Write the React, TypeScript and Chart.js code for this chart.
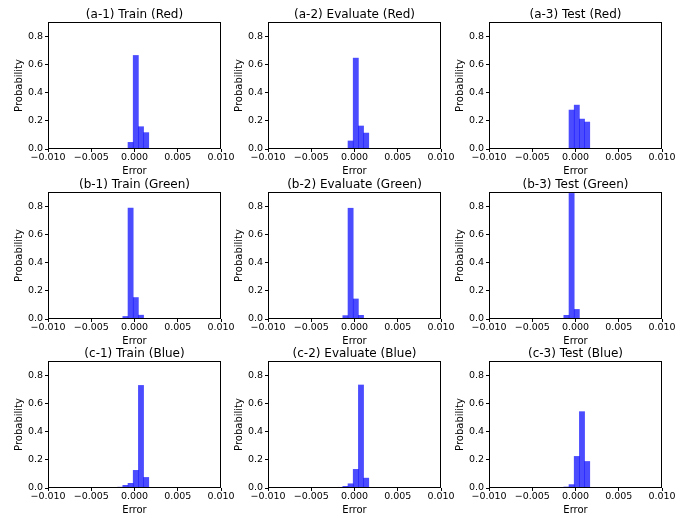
import { useEffect, useRef } from "react";
import { Chart, registerables } from "chart.js";

Chart.register(...registerables);

// Histogram bin centres (bin width 0.0006)
const binCenters = [-0.00225, -0.00165, -0.00105, -0.00045, 0.00015, 0.00075, 0.00135, 0.00195, 0.00255];

const titles = [
  "(a-1) Train (Red)",
  "(a-2) Evaluate (Red)",
  "(a-3) Test (Red)",
  "(b-1) Train (Green)",
  "(b-2) Evaluate (Green)",
  "(b-3) Test (Green)",
  "(c-1) Train (Blue)",
  "(c-2) Evaluate (Blue)",
  "(c-3) Test (Blue)",
];

const trainRed = [0, 0, 0, 0.047, 0.663, 0.158, 0.116, 0, 0];
const evaluateRed = [0, 0, 0, 0.057, 0.644, 0.163, 0.113, 0, 0];
const testRed = [0, 0, 0, 0.276, 0.311, 0.212, 0.191, 0, 0];
const trainGreen = [0, 0, 0.018, 0.786, 0.152, 0.027, 0.002, 0.003, 0.003];
const evaluateGreen = [0, 0.004, 0.024, 0.785, 0.142, 0.026, 0.002, 0.003, 0];
const testGreen = [0, 0, 0.026, 0.89, 0.068, 0.003, 0.003, 0, 0];
const trainBlue = [0, 0.006, 0.019, 0.033, 0.125, 0.727, 0.075, 0, 0];
const evaluateBlue = [0, 0.005, 0.012, 0.03, 0.132, 0.73, 0.07, 0, 0];
const testBlue = [0, 0, 0.007, 0.024, 0.224, 0.541, 0.188, 0, 0];

const seriesList = [
  trainRed, evaluateRed, testRed,
  trainGreen, evaluateGreen, testGreen,
  trainBlue, evaluateBlue, testBlue,
];

const xTicks = [-0.01, -0.005, 0, 0.005, 0.01];
const yTicks = [0, 0.2, 0.4, 0.6, 0.8];
const xLabel = "Error";
const yLabel = "Probability";

const FONT = "'DejaVu Sans', sans-serif";
const axLefts = [48, 268, 489];
const axTops = [22, 192, 361];

const PAD_L = 13;
const Y_W = 35;
const PAD_R = 16;
const PAD_T = 22;
const X_H = 28;
const PLOT_W = 173;
const PLOT_H = 127;
const CANVAS_W = PAD_L + Y_W + PLOT_W + PAD_R;
const CANVAS_H = PAD_T + PLOT_H + X_H;

function fmtX(v: number): string {
  const a = Math.abs(v).toFixed(3);
  return v < -1e-12 ? "\u2212" + a : a;
}

function Panel({ title, values, left, top }: { title: string; values: number[]; left: number; top: number }) {
  const ref = useRef<HTMLCanvasElement | null>(null);
  useEffect(() => {
    if (!ref.current) return;
    const framePlugin = {
      id: "frameTitle",
      afterDraw(chart: any) {
        const { ctx, chartArea } = chart;
        const l = Math.round(chartArea.left) + 0.5;
        const t = Math.round(chartArea.top) + 0.5;
        const r = Math.round(chartArea.right) - 0.5;
        const b = Math.round(chartArea.bottom) - 0.5;
        ctx.save();
        ctx.strokeStyle = "#000";
        ctx.lineWidth = 1;
        ctx.strokeRect(l, t, r - l, b - t);
        ctx.fillStyle = "#000";
        ctx.font = `12px ${FONT}`;
        ctx.textAlign = "center";
        ctx.textBaseline = "alphabetic";
        ctx.fillText(title, (chartArea.left + chartArea.right) / 2, chartArea.top - 4);
        ctx.restore();
      },
    };
    const chart = new Chart(ref.current, {
      type: "bar",
      data: {
        datasets: [
          {
            data: binCenters.map((x, i) => ({ x, y: values[i] })),
            backgroundColor: "rgba(0,0,255,0.7)",
            borderWidth: 0,
            barPercentage: 1,
            categoryPercentage: 1,
          },
        ],
      },
      options: {
        animation: false,
        responsive: false,
        devicePixelRatio: 1,
        layout: { padding: { left: PAD_L, right: PAD_R, top: PAD_T, bottom: 0 } },
        plugins: { legend: { display: false }, tooltip: { enabled: false }, title: { display: false } },
        scales: {
          x: {
            type: "linear",
            min: -0.01,
            max: 0.01,
            offset: false,
            grid: { display: true, offset: false, drawOnChartArea: false, drawTicks: true, tickLength: 3, color: "#000", lineWidth: 1 },
            border: { display: false },
            afterBuildTicks: (scale: any) => {
              scale.ticks = xTicks.map((v) => ({ value: v }));
            },
            afterFit: (scale: any) => {
              scale.height = X_H;
            },
            ticks: {
              autoSkip: false,
              maxRotation: 0,
              minRotation: 0,
              padding: 0,
              color: "#000",
              font: { family: FONT, size: 9.5 },
              callback: (v: any) => fmtX(Number(v)),
            },
            title: { display: true, text: xLabel, color: "#000", padding: 0, font: { family: FONT, size: 10 } },
          },
          y: {
            type: "linear",
            min: 0,
            max: 0.9,
            grid: { display: true, drawOnChartArea: false, drawTicks: true, tickLength: 3, color: "#000", lineWidth: 1 },
            border: { display: false },
            afterBuildTicks: (scale: any) => {
              scale.ticks = yTicks.map((v) => ({ value: v }));
            },
            afterFit: (scale: any) => {
              scale.width = Y_W;
            },
            ticks: {
              autoSkip: false,
              padding: 2,
              color: "#000",
              font: { family: FONT, size: 9.5 },
              callback: (v: any) => Number(v).toFixed(1),
            },
            title: { display: true, text: yLabel, color: "#000", padding: 0, font: { family: FONT, size: 10 } },
          },
        },
      },
      plugins: [framePlugin],
    } as any);
    return () => chart.destroy();
  }, [title, values]);
  return (
    <canvas
      ref={ref}
      width={CANVAS_W}
      height={CANVAS_H}
      style={{ position: "absolute", left: left - PAD_L - Y_W, top: top - PAD_T, width: CANVAS_W, height: CANVAS_H }}
    />
  );
}

export default function App() {
  return (
    <div style={{ position: "absolute", left: 0, top: 0, width: 691, height: 518, background: "#fff", overflow: "hidden" }}>
      {seriesList.map((values, i) => (
        <Panel
          key={i}
          title={titles[i]}
          values={values}
          left={axLefts[i % 3]}
          top={axTops[Math.floor(i / 3)]}
        />
      ))}
    </div>
  );
}
